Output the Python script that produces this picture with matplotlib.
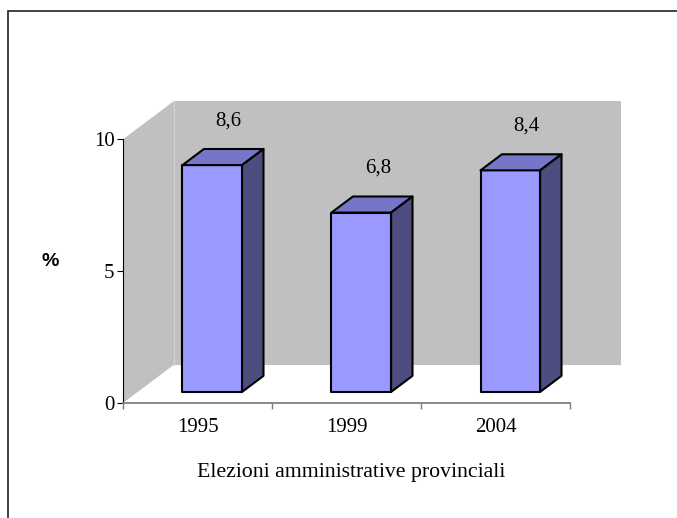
import matplotlib
matplotlib.use("Agg")
import matplotlib.pyplot as plt
from matplotlib.patches import Polygon, Rectangle

# dati del grafico
anni = ["1995", "1999", "2004"]
valori = [8.6, 6.8, 8.4]
etichette = ["8,6", "6,8", "8,4"]
y_ticks = [0, 5, 10]

# profondita' 3D in unita' dati (x, y)
DX, DY = 0.342, 1.45
D0, D1 = 0.29, 0.71          # profondita' delle barre
HALF_W = 0.2

FRONT = "#9999ff"
TOP = "#7676c8"
SIDE = "#4d4d80"
WALL = "#c0c0c0"
SERIF = "Liberation Serif"

fig = plt.figure(figsize=(6.77, 5.18), dpi=100)
ax = fig.add_axes([123 / 677, 115 / 518, 498 / 677, 302 / 518])
ax.set_xlim(-0.5, len(anni) - 0.5 + DX)
ax.set_ylim(0, y_ticks[-1] + DY)
ax.set_facecolor("none")

# pareti
x0, x1 = -0.5, len(anni) - 0.5
top = y_ticks[-1]
ax.add_patch(Polygon([(x0 + DX, DY), (x1 + DX, DY), (x1 + DX, top + DY), (x0 + DX, top + DY)],
                     closed=True, facecolor=WALL, edgecolor="none", zorder=1))
ax.add_patch(Polygon([(x0, 0), (x0 + DX, DY), (x0 + DX, top + DY), (x0, top)],
                     closed=True, facecolor=WALL, edgecolor="none", zorder=1))
ax.plot([x0 + DX, x0 + DX], [DY, top + DY], color="#d4d4d4", lw=0.8, zorder=1.5)

# barre 3D
for i, v in enumerate(valori):
    fx0 = i - HALF_W + D0 * DX
    fx1 = i + HALF_W + D0 * DX
    fy0 = D0 * DY
    fy1 = v + D0 * DY
    ox = (D1 - D0) * DX
    oy = (D1 - D0) * DY
    kw = dict(closed=True, edgecolor="black", lw=1.5, joinstyle="round", zorder=3)
    ax.add_patch(Polygon([(fx0, fy0), (fx1, fy0), (fx1, fy1), (fx0, fy1)], facecolor=FRONT, **kw))
    ax.add_patch(Polygon([(fx0, fy1), (fx1, fy1), (fx1 + ox, fy1 + oy), (fx0 + ox, fy1 + oy)],
                         facecolor=TOP, **kw))
    ax.add_patch(Polygon([(fx1, fy0), (fx1 + ox, fy0 + oy), (fx1 + ox, fy1 + oy), (fx1, fy1)],
                         facecolor=SIDE, **kw))
    ax.text(i + 0.21, v + 2.1, etichette[i], ha="center", va="center",
            fontsize=15, family=SERIF, zorder=4)

# assi
for s in ["top", "right"]:
    ax.spines[s].set_visible(False)
ax.spines["left"].set_bounds(0, top)
ax.spines["left"].set_color("black")
ax.spines["left"].set_linewidth(0.8)
ax.spines["bottom"].set_bounds(x0, x1)
ax.spines["bottom"].set_color("#7f7f7f")
ax.spines["bottom"].set_linewidth(1.3)

ax.set_yticks(y_ticks)
ax.set_yticklabels([str(t) for t in y_ticks], family=SERIF, fontsize=15)
ax.tick_params(axis="y", length=4.5, width=0.8, pad=1.5, color="black")

ax.set_xticks([x0 + k for k in range(len(anni) + 1)])
ax.set_xticklabels([])
ax.tick_params(axis="x", which="major", length=4.5, width=1.0, color="#7f7f7f")
ax.set_xticks(range(len(anni)), minor=True)
ax.set_xticklabels(anni, minor=True, family=SERIF, fontsize=15)
ax.tick_params(axis="x", which="minor", length=0, pad=11)

fig.text(50 / 677, 1 - 262 / 518, "%", ha="center", va="center",
         fontsize=14, family="Liberation Sans", fontweight="bold")
fig.text(351 / 677, 1 - 472 / 518, "Elezioni amministrative provinciali",
         ha="center", va="center", fontsize=15.7, family=SERIF)

# cornice del grafico
fig.patches.append(Rectangle((8 / 677, -0.5), 2.0, 1.5 - 11 / 518, transform=fig.transFigure,
                             facecolor="none", edgecolor="#222222", lw=1.2))

fig.savefig("out.png", dpi=100)
